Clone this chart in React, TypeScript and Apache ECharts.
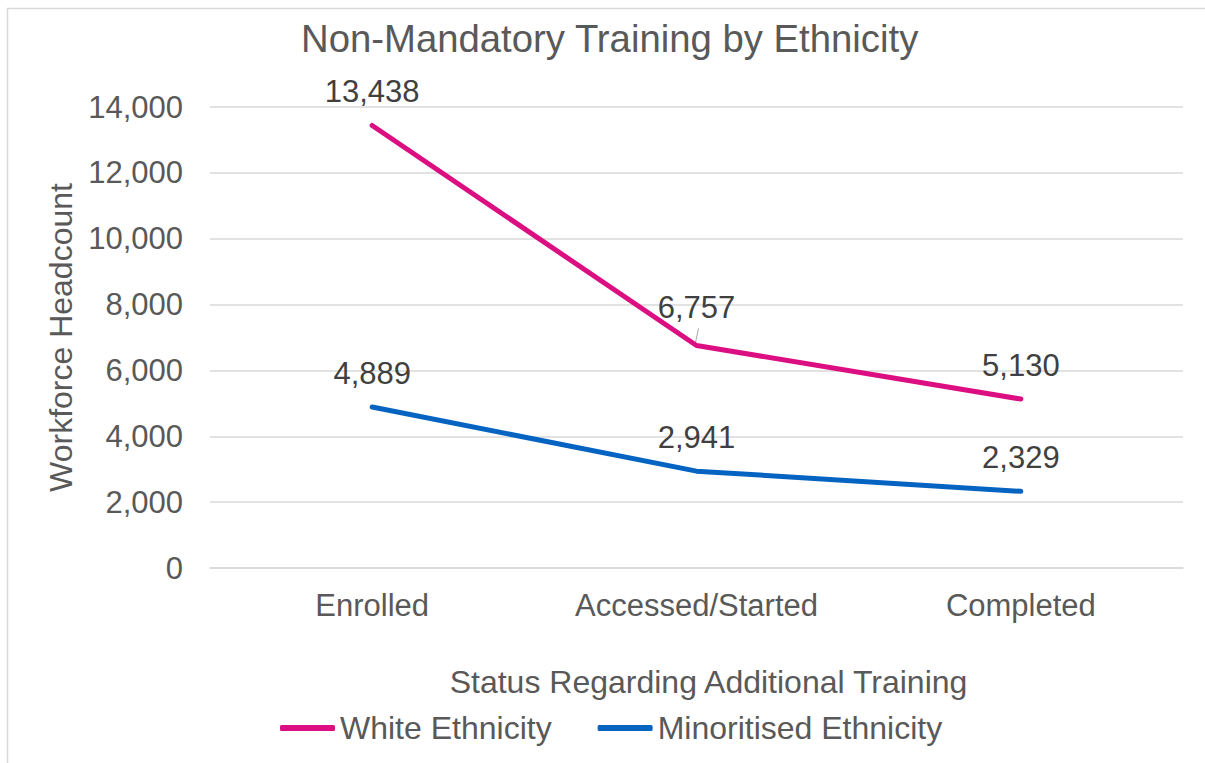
import React, { useEffect, useRef } from "react";
import * as echarts from "echarts";

const categories = ["Enrolled", "Accessed/Started", "Completed"];
const whiteValues = [13438, 6757, 5130];
const minoritisedValues = [4889, 2941, 2329];
const seriesNames = ["White Ethnicity", "Minoritised Ethnicity"];
const titleText = "Non-Mandatory Training by Ethnicity";
const xAxisTitle = "Status Regarding Additional Training";
const yAxisTitle = "Workforce Headcount";

const FONT = "'Liberation Sans', Arial, sans-serif";
const TEXT = "#595959";
const PINK = "#DC0F82";
const BLUE = "#0563C1";

export default function App() {
  const ref = useRef<HTMLDivElement>(null);
  useEffect(() => {
    if (!ref.current) return;
    const chart = echarts.init(ref.current, undefined, { renderer: "svg" });
    const fmt = (v: number) => v.toLocaleString("en-US");
    const labelBase = {
      show: true,
      position: "top" as const,
      distance: 18,
      color: "#404040",
      fontSize: 31,
      fontFamily: FONT,
      formatter: (p: any) => fmt(p.value),
    };
    chart.setOption({
      animation: false,
      backgroundColor: "#ffffff",
      textStyle: { fontFamily: FONT },
      title: {
        text: titleText,
        left: 296,
        top: 14,
        textStyle: { fontFamily: FONT, fontSize: 38.3, fontWeight: "normal", color: TEXT },
      },
      grid: { left: 210, right: 22, top: 107, bottom: 195, containLabel: false },
      legend: {
        left: 275,
        top: 707,
        itemWidth: 55,
        itemHeight: 6,
        itemGap: 46,
        icon: "roundRect",
        textStyle: { fontFamily: FONT, fontSize: 32, color: TEXT },
        data: seriesNames,
      },
      xAxis: {
        type: "category",
        data: categories,
        boundaryGap: true,
        axisLine: { show: true, lineStyle: { color: "#d9d9d9", width: 1.5 } },
        axisTick: { show: false },
        axisLabel: { color: TEXT, fontSize: 31, fontFamily: FONT, margin: 22 },
        name: xAxisTitle,
        nameLocation: "middle",
        nameGap: 98,
        nameTextStyle: { color: TEXT, fontSize: 32, fontFamily: FONT, padding: [0, 0, 0, 24] },
      },
      yAxis: {
        type: "value",
        min: 0,
        max: 14000,
        interval: 2000,
        axisLine: { show: false },
        axisTick: { show: false },
        splitLine: { lineStyle: { color: "#d9d9d9", width: 1.5 } },
        axisLabel: {
          color: TEXT,
          fontSize: 31,
          fontFamily: FONT,
          margin: 27,
          formatter: (v: number) => fmt(v),
        },
        name: yAxisTitle,
        nameLocation: "middle",
        nameGap: 130,
        nameTextStyle: { color: TEXT, fontSize: 32, fontFamily: FONT },
      },
      series: [
        {
          name: seriesNames[0],
          type: "line",
          data: whiteValues.map((v, i) =>
            i === 1 ? { value: v, label: { distance: 22 } } : v
          ),
          showSymbol: true,
          symbol: "circle",
          symbolSize: 1,
          lineStyle: { color: PINK, width: 5, cap: "round", join: "round" },
          itemStyle: { color: PINK },
          label: labelBase,
        },
        {
          name: seriesNames[1],
          type: "line",
          data: minoritisedValues,
          showSymbol: true,
          symbol: "circle",
          symbolSize: 1,
          lineStyle: { color: BLUE, width: 5, cap: "round", join: "round" },
          itemStyle: { color: BLUE },
          label: labelBase,
        },
      ],
    });
    // leader line for the 6,757 label, positioned via the chart's own scales
    const p = chart.convertToPixel({ gridIndex: 0 }, [categories[1], whiteValues[1]]) as number[];
    chart.setOption({
      graphic: [
        {
          type: "rect",
          shape: { x: 7.5, y: 8.5, width: 1400, height: 1000 },
          style: { fill: "none", stroke: "#d9d9d9", lineWidth: 1.5 },
          silent: true,
        },
        {
          type: "line",
          shape: { x1: p[0] + 2, y1: p[1] - 17, x2: p[0] - 1, y2: p[1] - 3 },
          style: { stroke: "#a6a6a6", lineWidth: 1 },
          silent: true,
        },
      ],
    });
    return () => chart.dispose();
  }, []);
  return (
    <div
      ref={ref}
      style={{ position: "fixed", left: 0, top: 0, width: 1205, height: 763 }}
    />
  );
}
